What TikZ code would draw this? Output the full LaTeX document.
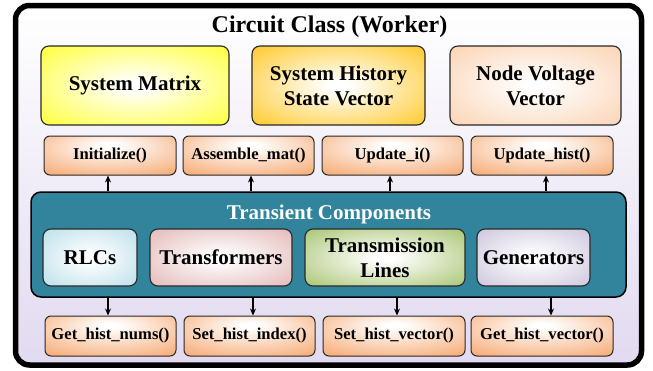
\documentclass[tikz,border=0pt]{standalone}
\usepackage{fontspec}
\setmainfont{Liberation Serif}
\usetikzlibrary{arrows.meta}
\definecolor{tealbox}{RGB}{49,132,155}
\definecolor{lav}{RGB}{226,218,240}
\definecolor{cyel}{RGB}{255,255,20}
\definecolor{cgold}{RGB}{255,190,0}
\definecolor{cpeach}{RGB}{250,203,165}
\definecolor{corange}{RGB}{245,160,100}
\definecolor{cblue}{RGB}{175,218,230}
\definecolor{cpink}{RGB}{222,172,171}
\definecolor{cgreen}{RGB}{152,186,88}
\definecolor{cgray}{RGB}{196,187,214}
\definecolor{bord}{RGB}{40,40,40}
\colorlet{rin}{white}
\colorlet{rout}{yellow}
\pgfdeclareradialshading[rin,rout]{soft}{\pgfpoint{0bp}{0bp}}{color(0bp)=(rin);color(3bp)=(rin);color(42bp)=(rout);color(75bp)=(rout)}
\pgfdeclareradialshading[rin,rout]{softup}{\pgfpoint{0bp}{14bp}}{color(0bp)=(rin);color(3bp)=(rin);color(44bp)=(rout);color(75bp)=(rout)}
\tikzset{
  rad/.style 2 args={/utils/exec={\colorlet{rin}{#1}\colorlet{rout}{#2}},shading=soft},
  radup/.style 2 args={/utils/exec={\colorlet{rin}{#1}\colorlet{rout}{#2}},shading=softup},
  bigbox/.style={draw=bord,line width=1.1pt,rounded corners=8pt,align=center,inner sep=0pt,
    font=\fontsize{21}{25}\selectfont\bfseries},
  methbox/.style={draw=bord,line width=1pt,rounded corners=6pt,inner sep=0pt,
    radup={white}{corange},font=\fontsize{16.6}{19}\selectfont\bfseries},
  arr/.style={line width=1.1pt,-{Stealth[length=7pt,width=6pt]}}
}
\begin{document}
\begin{tikzpicture}[x=1pt,y=-1pt]
\useasboundingbox (0,0) rectangle (653,370);
% outer frame
\path[top color=white,bottom color=lav,rounded corners=14pt] (15.5,5.5) rectangle (641.5,365);
\draw[line width=5.5pt,rounded corners=14pt] (15.5,5.5) rectangle (641.5,365);
\node[anchor=base,font=\fontsize{24}{28}\selectfont\bfseries,inner sep=0pt] (title) at (329.5,32) {Circuit Class (Worker)};
% top boxes
\node[bigbox,rad={white}{cyel},minimum width=188pt,minimum height=79pt] (sm) at (135,85.5) {System Matrix};
\node[bigbox,rad={white}{cgold},minimum width=173pt,minimum height=79pt] (sh) at (338.5,85.5) {System History\\State Vector};
\node[bigbox,rad={white}{cpeach},minimum width=171pt,minimum height=79pt] (nv) at (535.5,85.5) {Node Voltage\\Vector};
% method row 1
\node[methbox,minimum width=132pt,minimum height=39pt] (init) at (110,155.5) {Initialize()};
\node[methbox,minimum width=131pt,minimum height=39pt] (asm) at (248.5,155.5) {Assemble\_mat()};
\node[methbox,minimum width=141pt,minimum height=39pt] (upi) at (392.5,155.5) {Update\_i()};
\node[methbox,minimum width=142pt,minimum height=39pt] (uph) at (542,155.5) {Update\_hist()};
% teal box
\node[draw=black,line width=1.5pt,rounded corners=10pt,fill=tealbox,minimum width=595pt,minimum height=105pt,inner sep=0pt] (tc) at (328.5,244.5) {};
\node[anchor=base,text=white,font=\fontsize{21}{25}\selectfont\bfseries,inner sep=0pt] (tctitle) at (329,219) {Transient Components};
\node[bigbox,rad={white}{cblue},minimum width=94pt,minimum height=57pt] (rlc) at (90,257.5) {RLCs};
\node[bigbox,rad={white}{cpink},minimum width=142pt,minimum height=57pt] (tr) at (221,257.5) {Transformers};
\node[bigbox,rad={white}{cgreen},minimum width=160pt,minimum height=57pt] (tl) at (385,257.5) {Transmission\\Lines};
\node[bigbox,rad={white}{cgray},minimum width=113pt,minimum height=57pt] (gen) at (533.5,257.5) {Generators};
% method row 2
\node[methbox,minimum width=131pt,minimum height=40pt] (ghn) at (110.5,336) {Get\_hist\_nums()};
\node[methbox,minimum width=131pt,minimum height=40pt] (shi) at (249.5,336) {Set\_hist\_index()};
\node[methbox,minimum width=142pt,minimum height=40pt] (shv) at (394,336) {Set\_hist\_vector()};
\node[methbox,minimum width=142pt,minimum height=40pt] (ghv) at (542,336) {Get\_hist\_vector()};
% arrows up
\draw[arr] ([xshift=-2pt]init.south |- tc.north) -- ([xshift=-2pt]init.south);
\draw[arr] ([xshift=2.5pt]asm.south |- tc.north) -- ([xshift=2.5pt]asm.south);
\draw[arr] ([xshift=-2.5pt]upi.south |- tc.north) -- ([xshift=-2.5pt]upi.south);
\draw[arr] ([xshift=4pt]uph.south |- tc.north) -- ([xshift=4pt]uph.south);
% arrows down
\draw[arr] ([xshift=-2.5pt]ghn.north |- tc.south) -- ([xshift=-2.5pt]ghn.north);
\draw[arr] ([xshift=3.5pt]shi.north |- tc.south) -- ([xshift=3.5pt]shi.north);
\draw[arr] ([xshift=3pt]shv.north |- tc.south) -- ([xshift=3pt]shv.north);
\draw[arr] ([xshift=9pt]ghv.north |- tc.south) -- ([xshift=9pt]ghv.north);
\end{tikzpicture}
\end{document}
